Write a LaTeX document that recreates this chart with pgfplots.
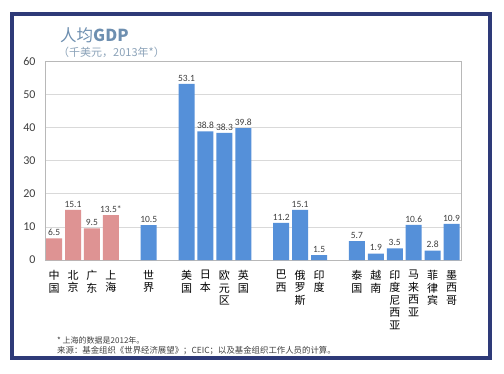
\documentclass[border=0pt]{standalone}
\usepackage{fontspec}
\setmainfont{Carlito}
\newfontfamily\cjk{Noto Sans CJK SC}
\usepackage{pgfplots}
\usepackage{pgfplotstable}
\pgfplotsset{compat=1.18}
\definecolor{navy}{HTML}{2E3A78}
\definecolor{barblue}{HTML}{5590D9}
\definecolor{barpink}{HTML}{DE9393}
\definecolor{gridgray}{HTML}{D9D9D9}
\definecolor{titleblue}{HTML}{6E8FB0}
\definecolor{subblue}{HTML}{8CA3B9}
\definecolor{txt}{HTML}{404040}

\pgfplotstableread{
x y label
0 6.5 6.5
1 15.1 15.1
2 9.5 9.5
3 13.5 13.5*
}\china

\pgfplotstableread{
x y label
5 10.5 10.5
7 53.1 53.1
8 38.8 38.8
9 38.3 38.3
10 39.8 39.8
12 11.2 11.2
13 15.1 15.1
14 1.5 1.5
16 5.7 5.7
17 1.9 1.9
18 3.5 3.5
19 10.6 10.6
20 2.8 2.8
21 10.9 10.9
}\others

\begin{document}
\begin{tikzpicture}[x=1pt,y=1pt]
\path[use as bounding box] (0,0) rectangle (504,-373);
\fill[white] (0,0) rectangle (504,-373);
\draw[navy, line width=4pt] (12,-13.5) rectangle (489.5,-358);

\node[anchor=west, inner sep=0pt, text=titleblue] at (60,-35)
  {\cjk\fontsize{16.5}{18}\selectfont 人均\textbf{GDP}};
\node[anchor=west, inner sep=0pt, text=subblue] at (58,-52)
  {\cjk\fontsize{11}{13}\selectfont （千美元，2013年*）};

\begin{axis}[
  at={(45pt,-260pt)}, anchor=south west,
  scale only axis, width=416pt, height=199pt,
  xmin=-0.48, xmax=21.5, ymin=0, ymax=60,
  ytick={0,10,...,60},
  xtick={0,1,2,3,5,7,8,9,10,12,13,14,16,17,18,19,20,21},
  xticklabels={{中\\国},{北\\京},{广\\东},{上\\海},{世\\界},{美\\国},{日\\本},{欧\\元\\区},{英\\国},{巴\\西},{俄\\罗\\斯},{印\\度},{泰\\国},{越\\南},{印\\度\\尼\\西\\亚},{马\\来\\西\\亚},{菲\\律\\宾},{墨\\西\\哥}},
  xticklabel style={align=center, anchor=north, yshift=-2.5pt, font=\cjk\fontsize{11}{12.5}\selectfont, text=black},
  yticklabel style={xshift=-6pt, font=\fontsize{12}{14}\selectfont, text=txt},
  /pgf/number format/assume math mode=true,
  major tick style={draw=none},
  ymajorgrids, major grid style={draw=gridgray, line width=0.6pt},
  axis line style={draw=gridgray!85!black, line width=0.7pt},
  ybar, bar width=16pt,
  point meta=explicit symbolic,
  nodes near coords,
  every node near coord/.append style={font=\fontsize{9.5}{11}\selectfont, text=txt, inner sep=2.5pt},
  clip=false,
]
\addplot[ybar, bar shift=0pt, fill=barpink, draw=none] table[x=x, y=y, meta=label] {\china};
\addplot[ybar, bar shift=0pt, fill=barblue, draw=none] table[x=x, y=y, meta=label] {\others};
\end{axis}

\node[anchor=west, inner sep=0pt, text=txt] at (57,-340)
  {\cjk\fontsize{8}{9}\selectfont * 上海的数据是2012年。};
\node[anchor=west, inner sep=0pt, text=txt] at (57,-351)
  {\cjk\fontsize{8.4}{9}\selectfont 来源：基金组织《世界经济展望》；CEIC；以及基金组织工作人员的计算。};
\end{tikzpicture}
\end{document}
